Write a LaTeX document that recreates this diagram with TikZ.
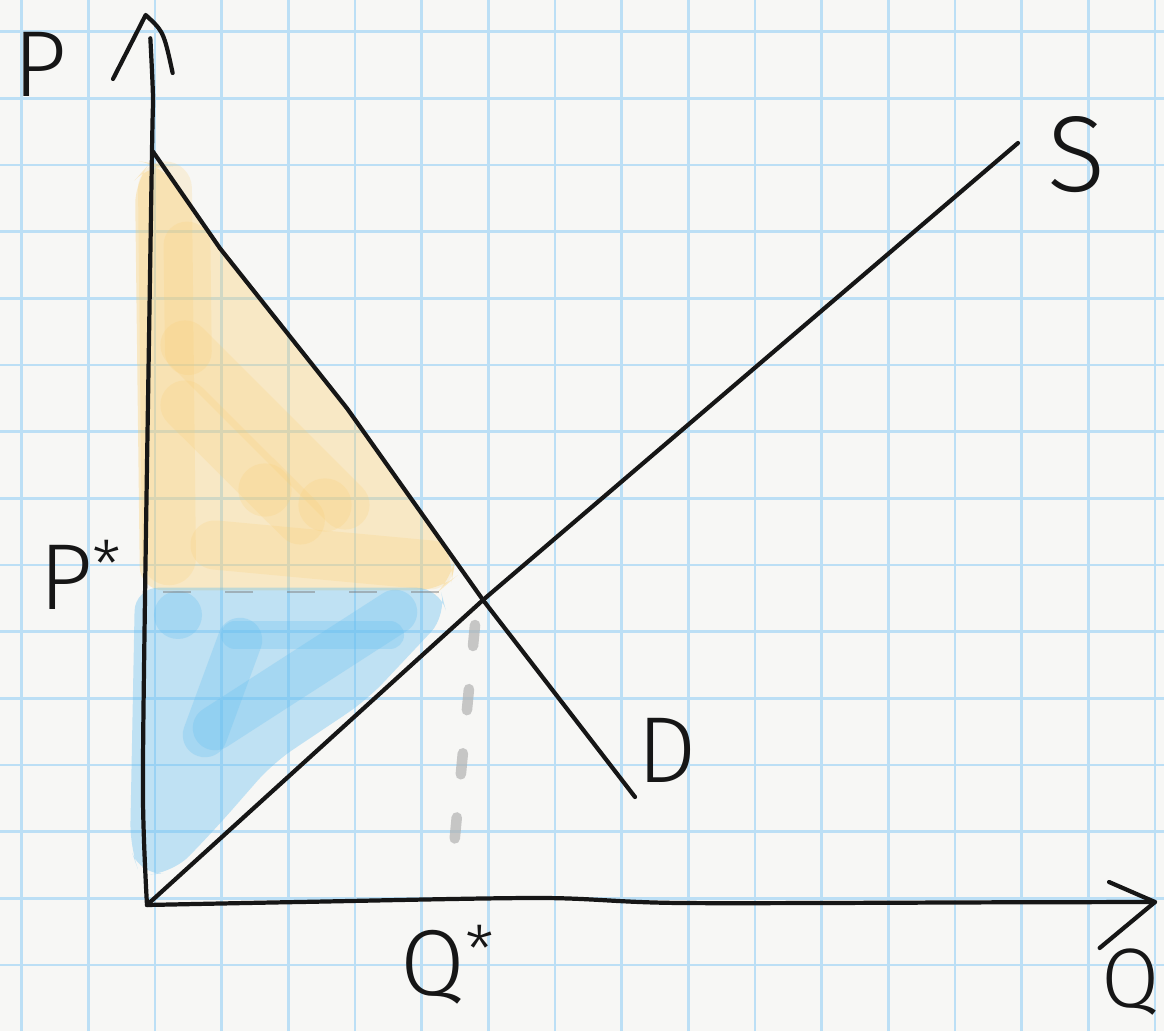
\documentclass[tikz,border=0pt]{standalone}
\usepackage{fontspec}
\setmainfont{Fira Sans}[UprightFont=* Light]

\definecolor{paper}{RGB}{247,247,245}
\definecolor{gridblue}{RGB}{188,223,245}
\definecolor{csorange}{RGB}{250,205,110}
\definecolor{psblue}{RGB}{100,190,240}
\definecolor{ink}{RGB}{22,22,22}

\tikzset{
    gridline/.style={gridblue, line width=1.1pt},
    pen/.style={ink, line width=1.8pt, line cap=round, line join=round},
    orangemark/.style={csorange, opacity=0.35, line cap=round, line join=round},
    orangestroke/.style={csorange, opacity=0.2, line cap=round, line join=round},
    bluemark/.style={psblue, opacity=0.38, line cap=round, line join=round},
    bluestroke/.style={psblue, opacity=0.28, line cap=round, line join=round},
    dropline/.style={gray!60, line width=4.5pt, line cap=round, dash pattern=on 9pt off 18.5pt, opacity=0.7},
    priceline/.style={gray, line width=0.8pt, dash pattern=on 12pt off 14.5pt, opacity=0.5},
    hand/.style={ink, font=\fontsize{40}{40}\selectfont, inner sep=0pt}
}

\begin{document}
\begin{tikzpicture}
    % Paper and grid
    \fill[paper] (-2.205,-1.89) rectangle (15.255,13.575);
    \useasboundingbox (-2.205,-1.89) rectangle (15.255,13.575);
    \foreach \i in {-2,...,15}
        \draw[gridline] (\i+0.121,-1.89) -- (\i+0.121,13.575);
    \foreach \j in {-1,...,13}
        \draw[gridline] (-2.205,\j+0.1) -- (15.255,\j+0.1);

    % Key points
    \coordinate (O) at (0,0);
    \coordinate (E) at (5.04,4.575);
    \coordinate (Dtop) at (0.09,11.3);
    \coordinate (Dend) at (7.32,1.62);
    \coordinate (Send) at (13.065,11.43);
    \coordinate (Ptip) at (-0.02,13.35);
    \coordinate (Qtip) at (15.12,0.045);
    \coordinate (Qstart) at (4.92,4.2);
    \coordinate (Qfoot) at (4.59,0.72);

    % Consumer surplus (orange)
    \fill[orangemark, rounded corners=10pt] (-0.18,10.875) -- (0.045,11.13) -- (0.225,11.1)
        -- (1.095,9.85) -- (3.0,7.45) -- (4.62,5.175) -- (4.575,4.875) -- (4.395,4.72)
        -- (-0.105,4.72) -- cycle;
    \draw[orangestroke, line width=23pt] (0.27,10.75) -- (0.33,5.2);
    \draw[orangestroke, line width=20pt] (0.6,9.9) -- (0.62,8.3);
    \draw[orangestroke, line width=21pt] (0.57,8.4) -- (2.97,6.0);
    \draw[orangestroke, line width=21pt] (0.57,7.5) -- (2.3,5.775);
    \draw[orangestroke, line width=21pt] (1.02,5.4) -- (4.245,5.1);
    \fill[orangestroke] (1.77,6.225) circle (0.4);
    \fill[orangestroke] (2.67,6.0) circle (0.4);

    % Producer surplus (blue)
    \fill[bluemark, rounded corners=10pt] (-0.18,4.76) -- (4.395,4.76) -- (4.5,4.35)
        -- (3.3,3.075) -- (1.89,2.13) -- (1.05,1.17) -- (0.39,0.48) -- (-0.105,0.45)
        -- (-0.255,0.87) -- cycle;
    \fill[bluestroke] (0.465,4.35) circle (0.36);
    \draw[bluestroke, line width=12pt] (1.32,4.05) -- (3.645,4.05);
    \draw[bluestroke, line width=19pt] (3.72,4.395) -- (1.02,2.655);
    \draw[bluestroke, line width=19pt] (0.87,2.55) -- (1.395,3.975);

    % Guide lines
    \draw[priceline] (0.24,4.695) -- (4.44,4.695);
    \draw[dropline] (Qstart) -- (Qfoot);

    % Axes
    \draw[pen] plot[smooth] coordinates {(O) (-0.06,1.6) (-0.03,4.6) (0.075,11.3) (0.09,12.1) (0.05,13.0)};
    \draw[pen] (-0.51,12.39) -- (Ptip) .. controls (0.25,13.1) .. (0.385,12.48);
    \draw[pen] plot[smooth] coordinates {(O) (2.29,0.045) (5.9,0.105) (8.0,0.03) (12.8,0.04) (Qtip)};
    \draw[pen] (14.43,0.345) -- (Qtip) -- (14.29,-0.645);

    % Demand and supply
    \draw[pen] (Dtop) -- (1.095,9.85) -- (3.0,7.45) -- (E) -- (Dend);
    \draw[pen] (O) -- (E) -- (Send);

    % Labels
    \node[hand] (Plabel) at (-1.605,12.615) {P};
    \node[hand, anchor=base west] (Pstar) at (-1.62,4.425) {P\textsuperscript{*}};
    \node[hand, anchor=base west] (Qstar) at (3.8,-1.35) {Q\textsuperscript{*}};
    \node[hand, font=\fontsize{36}{36}\selectfont] (Qlabel) at (14.75,-1.15) {Q};
    \node[hand, font=\fontsize{46}{46}\selectfont] (Slabel) at (13.95,11.25) {S};
    \node[hand] (Dlabel) at (7.8,2.325) {D};
\end{tikzpicture}
\end{document}
